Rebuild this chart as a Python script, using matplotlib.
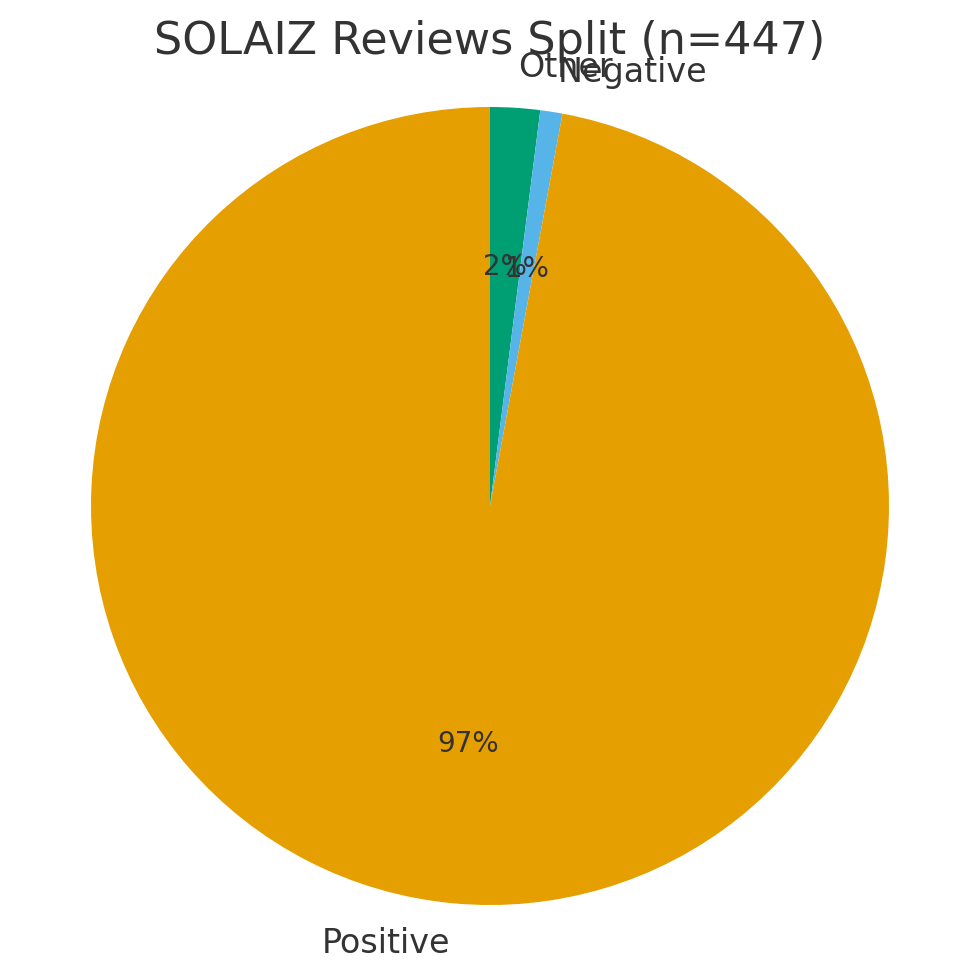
import matplotlib
matplotlib.use('Agg')
import matplotlib.pyplot as plt

labels = ['Other', 'Negative', 'Positive']
counts = [9, 4, 434]
colors = ['#009E73', '#56B4E9', '#E69F00']
n_total = 447

fig = plt.figure(figsize=(9.8, 9.8), dpi=100)
# pie radius ~399px, centre at (490, 506) from top-left
ax = fig.add_axes([11.2 / 980, -4.8 / 980, 957.6 / 980, 957.6 / 980])
wedges, texts, autotexts = ax.pie(counts, labels=labels, colors=colors, startangle=90,
                                  counterclock=False, autopct='%1.0f%%',
                                  textprops={'fontsize': 24, 'color': '#333333'})
for t in autotexts:
    t.set_fontsize(20)
ax.set_xlim(-1.2, 1.2)
ax.set_ylim(-1.2, 1.2)
ax.set_aspect('equal')
fig.text(0.5, 1 - 54 / 980, 'SOLAIZ Reviews Split (n=%d)' % n_total, fontsize=32,
         color='#333333', ha='center', va='baseline')
fig.savefig('out.png')
